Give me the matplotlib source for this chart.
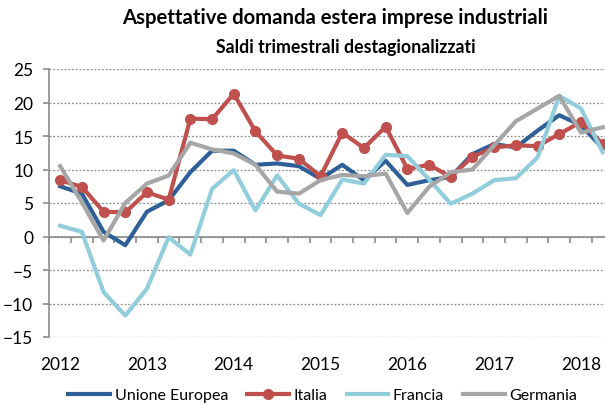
import matplotlib
matplotlib.use("Agg")
import matplotlib.pyplot as plt
import numpy as np

plt.rcParams['font.family'] = ['Lato', 'DejaVu Sans']

# quarters 2012Q1 .. 2018Q2
n_quarters = 26
year_labels = ['2012', '2013', '2014', '2015', '2016', '2017', '2018']

unione_europea = [7.5, 6.4, 0.7, -1.3, 3.7, 5.4, 9.6, 12.8, 12.8, 10.7, 10.9, 10.5, 8.6,
                  10.7, 8.4, 11.3, 7.7, 8.4, 8.9, 12.3, 13.8, 13.3, 15.8, 18.1, 16.6, 13.2]
italia = [8.4, 7.4, 3.7, 3.6, 6.6, 5.5, 17.6, 17.5, 21.3, 15.7, 12.1, 11.6, 9.0,
          15.5, 13.2, 16.4, 10.1, 10.7, 8.9, 11.9, 13.3, 13.6, 13.5, 15.3, 17.1, 13.8]
francia = [1.6, 0.7, -8.3, -11.8, -7.8, -0.1, -2.7, 7.1, 9.9, 3.9, 9.1, 4.9, 3.2,
           8.5, 7.9, 12.2, 12.0, 8.5, 4.9, 6.4, 8.4, 8.7, 11.8, 21.0, 19.1, 12.6]
germania = [10.5, 5.1, -0.6, 5.0, 7.9, 9.1, 14.0, 13.0, 12.4, 10.7, 6.7, 6.4, 8.4,
            9.2, 9.0, 9.4, 3.5, 7.4, 9.6, 10.0, 13.6, 17.2, 19.1, 21.0, 15.5, 16.3]

series_names = ['Unione Europea', 'Italia', 'Francia', 'Germania']
colors = ['#2F5F97', '#C0504D', '#92CDDC', '#A6A6A6']

W, H = 605, 406
fig = plt.figure(figsize=(W / 100, H / 100), dpi=100)
left_px, top_px, bottom_px = 49.3, 70, 338
ax = fig.add_axes([left_px / W, 1 - bottom_px / H, 1 - left_px / W, (bottom_px - top_px) / H])

x = np.arange(n_quarters)
lw = 3.0
ax.plot(x, unione_europea, color=colors[0], lw=lw, label=series_names[0])
ax.plot(x, italia, color=colors[1], lw=lw, marker='o', ms=7, label=series_names[1])
ax.plot(x, francia, color=colors[2], lw=lw, label=series_names[2])
ax.plot(x, germania, color=colors[3], lw=lw, label=series_names[3])

step = 21.7
ax.set_xlim(-0.5, (W - left_px) / step - 0.5)
ax.set_ylim(-15, 25)
ax.set_yticks(np.arange(-15, 26, 5))
ax.yaxis.grid(True, linestyle=(0, (1.5, 1.5)), color='#8C8C8C', lw=0.9)
ax.set_axisbelow(True)

for s in ['top', 'right', 'bottom']:
    ax.spines[s].set_visible(False)
ax.spines['left'].set_color('#8C8C8C')
ax.spines['left'].set_linewidth(1.2)
ax.tick_params(axis='y', direction='out', length=4.5, width=1.2, color='#8C8C8C',
               labelsize=12.5, pad=7)

# year labels at first quarter of each year
ax.set_xticks(np.arange(len(year_labels)) * 4)
ax.set_xticklabels(year_labels)
ax.tick_params(axis='x', length=0, labelsize=12.5, pad=14)

# zero axis line with quarterly tick marks
sec = ax.secondary_xaxis(15 / 40)
sec.set_xticks(np.arange(-0.5, n_quarters + 0.5, 1))
sec.tick_params(axis='x', direction='out', length=4.5, width=1.2, color='#8C8C8C',
                labelbottom=False, labeltop=False, top=False, bottom=True)
sec.spines['bottom'].set_color('#8C8C8C')
sec.spines['bottom'].set_linewidth(1.2)
sec.spines['top'].set_visible(False)

fig.text(335 / W, 1 - 18 / H, 'Aspettative domanda estera imprese industriali',
         ha='center', va='center', fontsize=14.6, fontweight='bold')
fig.text(346 / W, 1 - 47 / H, 'Saldi trimestrali destagionalizzati',
         ha='center', va='center', fontsize=12.8, fontweight='bold')

fig.legend(loc='center', bbox_to_anchor=(323 / W, 1 - 396 / H), ncol=4, frameon=False,
           fontsize=11.5, handlelength=2.6, handletextpad=0.3, columnspacing=1.2,
           borderaxespad=0)

fig.savefig('out.png', dpi=100)
